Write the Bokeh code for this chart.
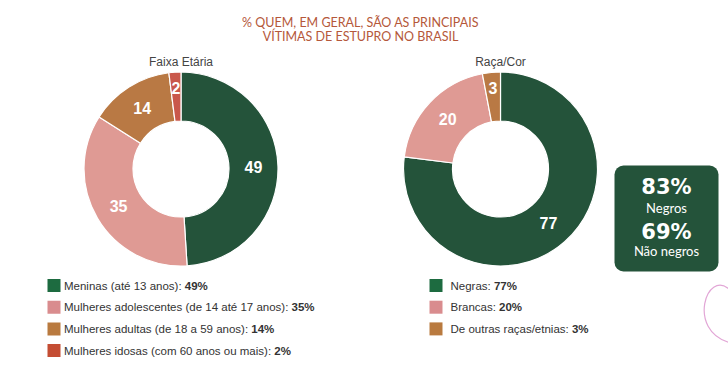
import math
from bokeh.plotting import figure
from bokeh.models import Range1d, BoxAnnotation
from bokeh.core.properties import value
from bokeh.embed import file_html
from bokeh.resources import INLINE

# ---------------- data ----------------
title_lines = ["% QUEM, EM GERAL, SÃO AS PRINCIPAIS", "VÍTIMAS DE ESTUPRO NO BRASIL"]

faixa_title = "Faixa Etária"
faixa_labels = ["Meninas (até 13 anos)",
                "Mulheres adolescentes (de 14 até 17 anos)",
                "Mulheres adultas (de 18 a 59 anos)",
                "Mulheres idosas (com 60 anos ou mais)"]
faixa_values = [49, 35, 14, 2]

raca_title = "Raça/Cor"
raca_labels = ["Negras", "Brancas", "De outras raças/etnias"]
raca_values = [77, 20, 3]

destaque_values = [83, 69]
destaque_labels = ["Negros", "Não negros"]

# ---------------- styles ----------------
slice_colors = ["#24533A", "#DF9A94", "#B97944", "#C9584B"]
legend_colors = ["#1D6B40", "#D98C8E", "#B97A3F", "#C44D33"]
title_color = "#B5583A"
text_color = "#333333"

W, H = 728, 367
p = figure(width=W, height=H, output_backend="svg", toolbar_location=None,
           x_range=Range1d(0, W), y_range=Range1d(0, H),
           x_axis_location=None, y_axis_location=None, min_border=0,
           tools="")
p.grid.visible = False
p.outline_line_color = None
p.background_fill_color = "white"


def Y(sy):
    # screen y (from top) -> data y
    return H - sy


# Arial / Liberation Sans advance widths (per 1000 em)
AW = {' ': 278, '(': 333, ')': 333, ':': 278, '/': 278, '%': 889,
      'a': 556, 'b': 556, 'c': 500, 'd': 556, 'e': 556, 'é': 556, 'á': 556,
      'ç': 500, 'f': 278, 'g': 556, 'h': 556, 'i': 222, 'j': 222, 'k': 500,
      'l': 222, 'm': 833, 'n': 556, 'o': 556, 'p': 556, 'q': 556, 'r': 333,
      's': 500, 't': 278, 'u': 556, 'v': 500, 'w': 722, 'x': 500, 'y': 500,
      'z': 500, 'M': 833, 'N': 722, 'B': 667, 'D': 722}


def text_width(s, size):
    return sum(AW.get(c, 556) for c in s) * size / 1000.0


# title
for i, line in enumerate(title_lines):
    p.text(x=[360], y=[Y(21.5 + i * 14)], text=[line], text_font=value("Lato"),
           text_font_size="12.5px", text_color=title_color,
           text_align="center", text_baseline="middle")

R_OUT, R_IN = 97, 48


def donut(cx, cy, values, title):
    total = float(sum(values))
    cum = 0.0
    starts, ends, lx, ly = [], [], [], []
    for v in values:
        a0 = math.pi / 2 - 2 * math.pi * cum / total
        a1 = math.pi / 2 - 2 * math.pi * (cum + v) / total
        starts.append(a0)
        ends.append(a1)
        mid = (a0 + a1) / 2
        r = (R_OUT + R_IN) / 2 if v >= 5 else (R_OUT + R_IN) / 2 + 9
        lx.append(cx + r * math.cos(mid))
        ly.append(Y(cy) + r * math.sin(mid))
        cum += v
    p.annular_wedge(x=cx, y=Y(cy), inner_radius=R_IN, outer_radius=R_OUT,
                    start_angle=starts, end_angle=ends, direction="clock",
                    fill_color=slice_colors[:len(values)], line_color="white",
                    line_width=1.2)
    p.text(x=lx, y=ly, text=[str(v) for v in values],
           text_font=value("Liberation Sans"), text_font_style="bold",
           text_font_size="16px", text_color="white",
           text_align="center", text_baseline="middle")
    p.text(x=[cx], y=[Y(61)], text=[title], text_font=value("Liberation Sans"),
           text_font_size="12px", text_color="#444444",
           text_align="center", text_baseline="middle")


donut(180.5, 168.5, faixa_values, faixa_title)
donut(500, 168.5, raca_values, raca_title)

LEG_SIZE = 11.5


def legend(sq_x, tx, labels, values):
    rows = [285 + i * 21.7 for i in range(len(labels))]
    p.rect(x=[sq_x] * len(labels), y=[Y(r) for r in rows], width=13, height=13,
           fill_color=legend_colors[:len(labels)], line_color=None)
    normal = [lab + ": " for lab in labels]
    p.text(x=[tx] * len(labels), y=[Y(r) for r in rows], text=normal,
           text_font=value("Liberation Sans"), text_font_size=f"{LEG_SIZE}px",
           text_color=text_color, text_align="left", text_baseline="middle")
    bx = [tx + text_width(s, LEG_SIZE) for s in normal]
    p.text(x=bx, y=[Y(r) for r in rows], text=[f"{v}%" for v in values],
           text_font=value("Liberation Sans"), text_font_style="bold",
           text_font_size=f"{LEG_SIZE}px", text_color=text_color,
           text_align="left", text_baseline="middle")


legend(53.5, 63.5, faixa_labels, faixa_values)
legend(435.5, 450, raca_labels, raca_values)

# highlight box
box = BoxAnnotation(left=614, right=718, top=Y(165), bottom=Y(271),
                    fill_color="#24533A", fill_alpha=1.0, line_color=None,
                    border_radius=9, level="underlay")
p.add_layout(box)
bx_c = 666
for i, (v, lab) in enumerate(zip(destaque_values, destaque_labels)):
    p.text(x=[bx_c], y=[Y(186 + i * 45)], text=[f"{v}%"],
           text_font=value("DejaVu Sans"), text_font_style="bold",
           text_font_size="21px", text_color="white",
           text_align="center", text_baseline="middle")
    p.text(x=[bx_c], y=[Y(207.5 + i * 42.5)], text=[lab],
           text_font=value("Lato"), text_font_size="13px", text_color="white",
           text_align="center", text_baseline="middle")

# decorative pink curve at bottom right
p.bezier(x0=[729], y0=[Y(289)], x1=[729], y1=[Y(342)],
         cx0=[706], cy0=[Y(268)], cx1=[686], cy1=[Y(330)],
         line_color="#E2A6D6", line_width=1.2)

open("out.html", "w").write(file_html(p, INLINE))
